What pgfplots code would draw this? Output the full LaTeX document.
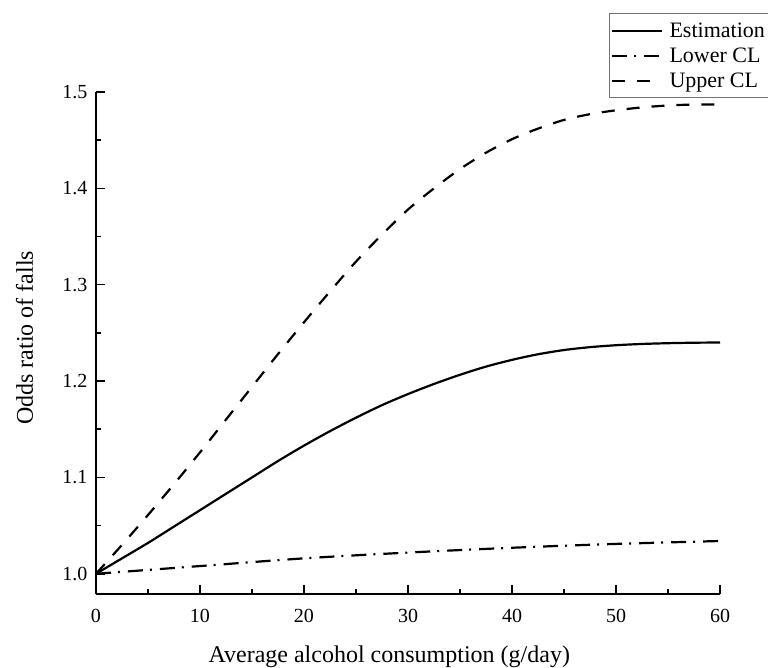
\documentclass[border=0pt]{standalone}
\usepackage{fontspec}
\setmainfont{Liberation Serif}
\usepackage{pgfplots}
\pgfplotsset{compat=1.18}
\begin{document}
\begin{tikzpicture}
\begin{axis}[
  scale only axis,
  width=624pt, height=502pt,
  xmin=0, xmax=60, ymin=0.979, ymax=1.5,
  axis x line=bottom, axis y line=left,
  axis line style={-, line width=1.8pt},
  tick align=inside,
  major tick length=9pt, minor tick length=5pt,
  every tick/.style={black, line width=1.5pt},
  xtick={0,10,...,60}, minor x tick num=1,
  ytick={1.0,1.1,1.2,1.3,1.4,1.5}, minor y tick num=1,
  /pgf/number format/assume math mode=true,
  ticklabel style={font=\fontsize{20}{24}\selectfont},
  xticklabel style={anchor=base, yshift=-28pt},
  yticklabel style={/pgf/number format/fixed, /pgf/number format/fixed zerofill,
    /pgf/number format/precision=1, xshift=-5pt},
  xlabel={Average alcohol consumption (g/day)},
  ylabel={Odds ratio of falls},
  every axis x label/.style={at={(axis description cs:0.47,-0.1355)}, anchor=base,
    font=\fontsize{24}{28}\selectfont},
  every axis y label/.style={at={(axis description cs:-0.101,0.51)}, anchor=base, rotate=90,
    font=\fontsize{24}{28}\selectfont},
  legend style={at={(0.822,1.157)}, anchor=north west, draw=black!55, line width=0.8pt,
    font=\fontsize{22}{25}\selectfont, inner xsep=2pt, inner ysep=7pt, row sep=5pt,
    cells={anchor=west},
    /tikz/every odd column/.append style={column sep=4pt}},
  legend image code/.code={\draw[#1] (0pt,0pt) -- (50pt,0pt);},
  clip=false,
]
\addplot[black, line width=2.2pt, smooth] coordinates {
 (0,1.0) (2.5,1.016) (5,1.032) (7.5,1.049) (10,1.066) (12.5,1.083) (15,1.100)
 (17.5,1.117) (20,1.133) (22.5,1.148) (25,1.162) (27.5,1.175) (30,1.1865)
 (32.5,1.197) (35,1.2065) (37.5,1.215) (40,1.222) (42.5,1.2278) (45,1.2322)
 (47.5,1.2352) (50,1.2372) (52.5,1.2385) (55,1.2393) (57.5,1.2398) (60,1.240)};
\addlegendentry{Estimation}
\addplot[black, line width=2.2pt, smooth, dash pattern=on 15pt off 7pt on 2pt off 8pt] coordinates {
 (0,1.0) (10,1.008) (20,1.016) (30,1.022) (40,1.027) (50,1.031) (60,1.034)};
\addlegendentry{Lower CL}
\addplot[black, line width=2.2pt, smooth, dash pattern=on 13pt off 12pt] coordinates {
 (0,1.0) (2.5,1.030) (5,1.061) (7.5,1.093) (10,1.126) (12.5,1.160) (15,1.194)
 (17.5,1.228) (20,1.261) (22.5,1.293) (25,1.324) (27.5,1.352) (30,1.378)
 (32.5,1.400) (35,1.420) (37.5,1.437) (40,1.451) (42.5,1.462) (45,1.471)
 (47.5,1.477) (50,1.481) (52.5,1.484) (55,1.486) (57.5,1.487) (60,1.487)};
\addlegendentry{Upper CL}
\end{axis}
\pgfresetboundingbox
\useasboundingbox (-96pt,-73pt) rectangle (672pt,594pt);
\end{tikzpicture}
\end{document}
